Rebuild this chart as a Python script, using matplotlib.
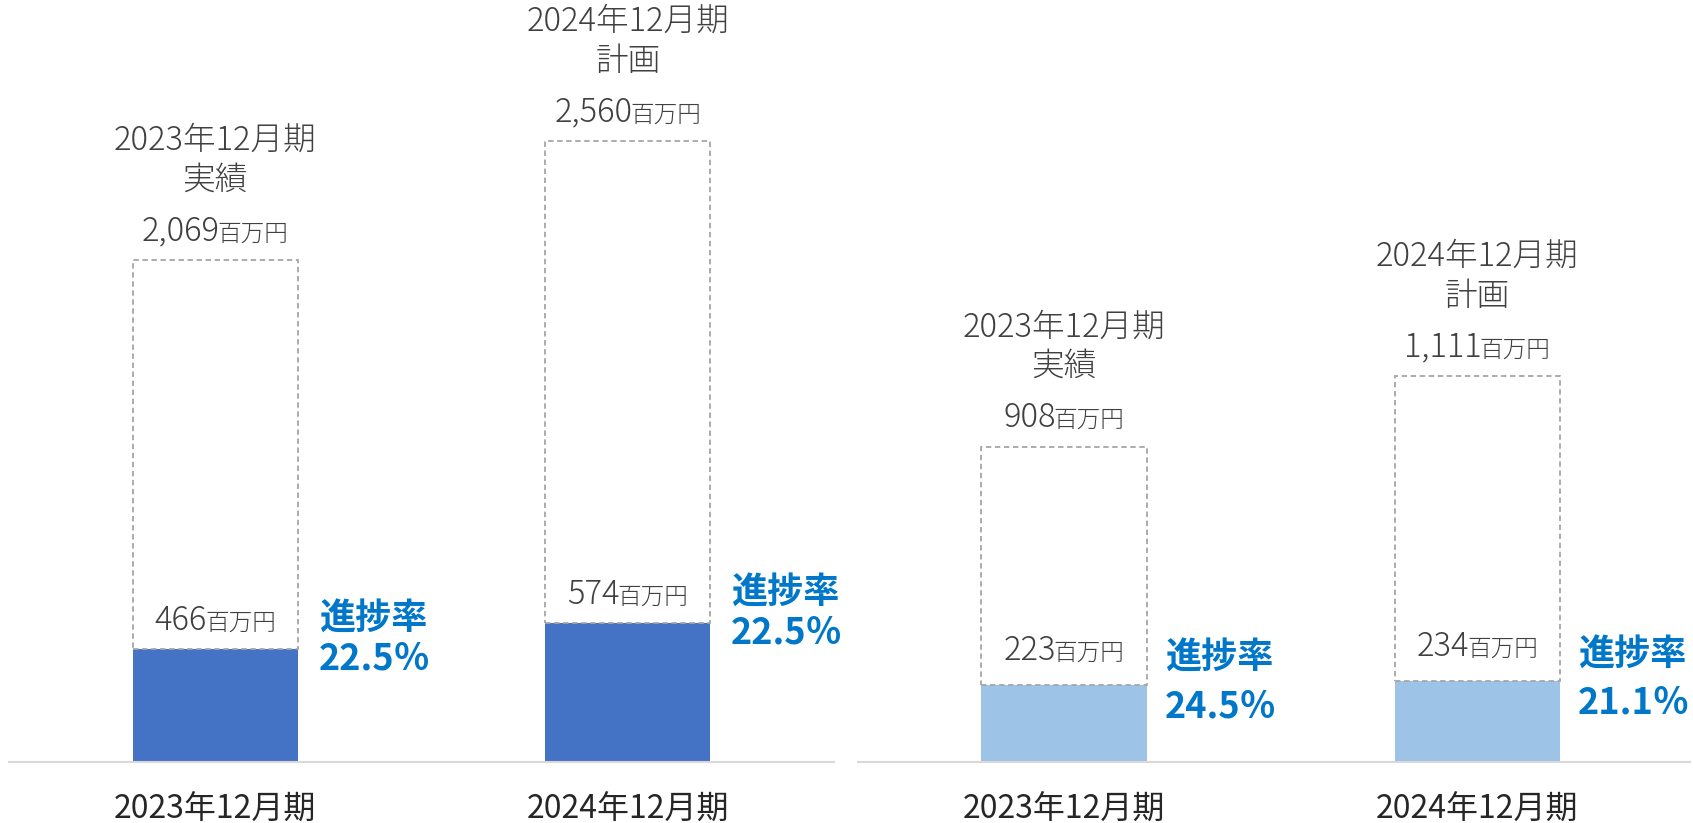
import matplotlib
matplotlib.use("Agg")
import matplotlib.pyplot as plt

plt.rcParams['font.family'] = ['Noto Sans CJK JP', 'DejaVu Sans']

# data
periods = ['2023年12月期', '2024年12月期']
kinds = ['実績', '計画']
left_totals = [2069, 2560]
left_actuals = [466, 574]
left_rates = ['22.5％', '22.5％']
right_totals = [908, 1111]
right_actuals = [223, 234]
right_rates = ['24.5％', '21.1％']

TXT = '#404040'
RATE = '#0077C8'
DASH = '#A6A6A6'

fig = plt.figure(figsize=(16.93, 8.23), dpi=100)
ax1 = fig.add_axes([9 / 1693, 61 / 823, 825 / 1693, 762 / 823])
ax2 = fig.add_axes([858 / 1693, 61 / 823, 832 / 1693, 762 / 823])

labels = []  # (num_text, unit_text) pairs to center afterwards


def value_label(ax, x, y, dy, num):
    t1 = ax.annotate(num, (x, y), xytext=(0, dy), textcoords='offset pixels',
                     ha='right', va='baseline', fontsize=23.5, color=TXT, fontweight='light')
    t2 = ax.annotate('百万円', (x, y), xytext=(0, dy), textcoords='offset pixels',
                     ha='left', va='baseline', fontsize=17, color=TXT, fontweight='light')
    labels.append((t1, t2, dy))


def draw_panel(ax, totals, actuals, rates, color, xlim, ymax, in_dy, r_dx, r_up, r_dn):
    xs = range(len(totals))
    ax.bar(xs, actuals, width=0.4, color=color, zorder=2)
    ax.bar(xs, [t - a for t, a in zip(totals, actuals)], bottom=actuals, width=0.4,
           fill=False, edgecolor=DASH, linestyle=(0, (3, 2)), linewidth=1.3, zorder=3)
    for i in xs:
        value_label(ax, i, totals[i], 20, f'{totals[i]:,}')
        ax.annotate(kinds[i], (i, totals[i]), xytext=(0, 80), textcoords='offset pixels',
                    ha='center', va='center', fontsize=23.5, color=TXT, fontweight='light')
        ax.annotate(periods[i], (i, totals[i]), xytext=(0, 120), textcoords='offset pixels',
                    ha='center', va='center', fontsize=23.5, color=TXT, fontweight='light')
        value_label(ax, i, actuals[i], in_dy, f'{actuals[i]}')
        ax.annotate('進捗率', (i + 0.2, actuals[i]), xytext=(r_dx, r_up), textcoords='offset pixels',
                    ha='left', va='center', fontsize=26, color=RATE, fontweight='bold')
        ax.annotate(rates[i], (i + 0.2, actuals[i]), xytext=(r_dx, r_dn), textcoords='offset pixels',
                    ha='left', va='center', fontsize=26, color=RATE, fontweight='bold')
        ax.annotate(periods[i], (i, 0), xytext=(0, -48), textcoords='offset pixels',
                    ha='center', va='center', fontsize=23, color='#262626')
    ax.set_xlim(*xlim)
    ax.set_ylim(0, ymax)
    for s in ['top', 'left', 'right']:
        ax.spines[s].set_visible(False)
    ax.spines['bottom'].set_color('#D9D9D9')
    ax.spines['bottom'].set_linewidth(1.5)
    ax.set_xticks([])
    ax.set_yticks([])
    ax.patch.set_alpha(0)


draw_panel(ax1, left_totals, left_actuals, left_rates, '#4472C4', (-0.5, 1.5), 3143, 19, 21, 30, -10)
draw_panel(ax2, right_totals, right_actuals, right_rates, '#9DC3E6', (-0.498, 1.514), 2196, 25, 18, 26, -22)

# center the number + unit pairs on their bars
fig.canvas.draw()
r = fig.canvas.get_renderer()
for t1, t2, dy in labels:
    w1 = t1.get_window_extent(r).width
    w2 = t2.get_window_extent(r).width
    shift = (w1 - w2) / 2
    t1.xyann = (shift + 1, dy)
    t2.xyann = (shift - 1, dy)

fig.savefig('out.png', dpi=100)
